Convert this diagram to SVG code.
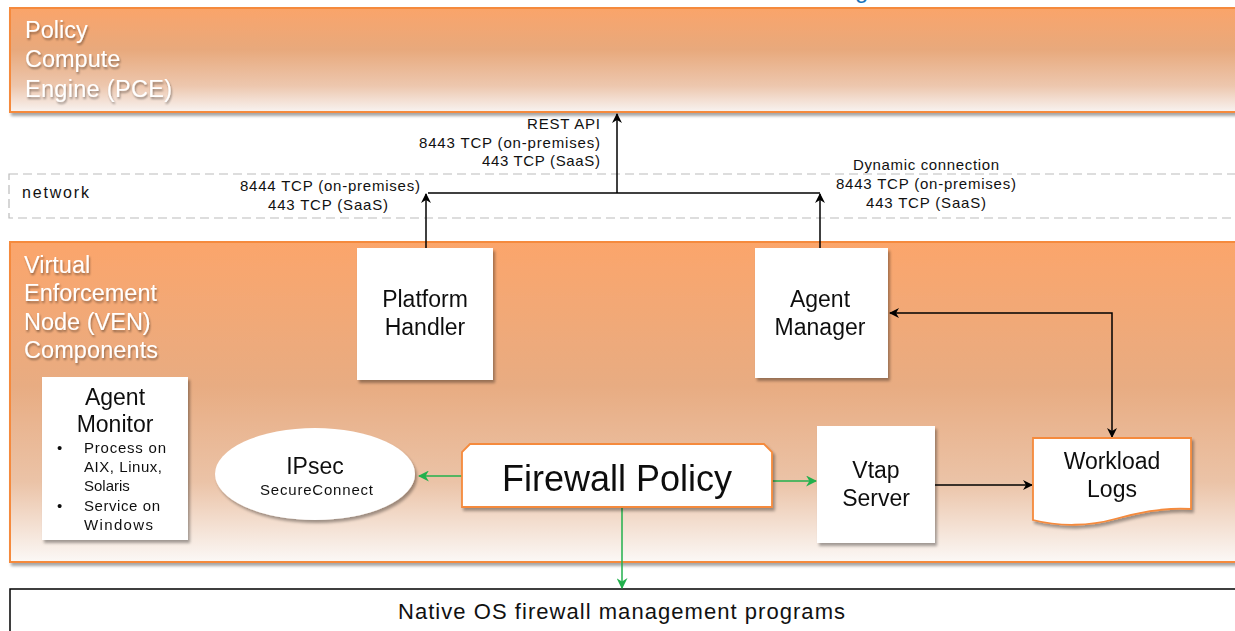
<svg xmlns="http://www.w3.org/2000/svg" width="1235" height="631" viewBox="0 0 1235 631">
<defs>
<linearGradient id="gPce" x1="0" y1="0" x2="0" y2="1">
<stop offset="0" stop-color="#FAA46A"/>
<stop offset="0.4" stop-color="#E8A97C"/>
<stop offset="0.75" stop-color="#EDC7AE"/>
<stop offset="1" stop-color="#F8F3F1"/>
</linearGradient>
<linearGradient id="gVen" x1="0" y1="0" x2="0" y2="1">
<stop offset="0" stop-color="#FBA56B"/>
<stop offset="0.45" stop-color="#E8AC82"/>
<stop offset="0.75" stop-color="#EBC3A7"/>
<stop offset="1" stop-color="#FBF8F6"/>
</linearGradient>
<filter id="sh" x="-10%" y="-10%" width="130%" height="130%">
<feGaussianBlur in="SourceAlpha" stdDeviation="1.5"/>
<feOffset dx="2" dy="3" result="o"/>
<feComponentTransfer><feFuncA type="linear" slope="0.35"/></feComponentTransfer>
<feMerge><feMergeNode/><feMergeNode in="SourceGraphic"/></feMerge>
</filter>
<filter id="tsh" x="-10%" y="-10%" width="130%" height="140%">
<feGaussianBlur in="SourceAlpha" stdDeviation="1.2"/>
<feOffset dx="1" dy="2" result="o"/>
<feComponentTransfer><feFuncA type="linear" slope="0.4"/></feComponentTransfer>
<feMerge><feMergeNode/><feMergeNode in="SourceGraphic"/></feMerge>
</filter>
<marker id="ab" viewBox="0 0 10 10" refX="9" refY="5" markerWidth="10" markerHeight="10" markerUnits="userSpaceOnUse" orient="auto-start-reverse">
<path d="M0,0 L10,5 L0,10 L3,5 Z" fill="#000"/>
</marker>
<marker id="ag" viewBox="0 0 10 10" refX="9" refY="5" markerWidth="11" markerHeight="11" markerUnits="userSpaceOnUse" orient="auto">
<path d="M0,0 L10,5 L0,10 L3,5 Z" fill="#22B04C"/>
</marker>
<style>
text{font-family:"Liberation Sans",Arial,sans-serif;}
.zone{stroke:#F58A3C;stroke-width:2;}
.ztxt{fill:#fff;font-size:23.5px;}
.node{fill:#fff;}
.onode{fill:#fff;stroke:#F58A3C;stroke-width:1.8;}
.nt{font-size:23px;fill:#111;text-anchor:middle;}
.lbl{font-size:15px;fill:#111;}
.sm{font-size:15px;fill:#111;}
.bk{fill:none;stroke:#000;stroke-width:1.5;}
.gr{fill:none;stroke:#22B04C;stroke-width:1.5;}
</style>
</defs>
<rect width="1235" height="631" fill="#fff"/>
<text x="855" y="-2" font-size="24" fill="#1A75BC">g</text>

<g id="pce">
<rect x="10" y="8" width="1235" height="104" fill="url(#gPce)" class="zone" filter="url(#sh)"/>
<g filter="url(#tsh)">
<text class="ztxt" x="25" y="38">Policy</text>
<text class="ztxt" x="25" y="67">Compute</text>
<text class="ztxt" x="25" y="97" textLength="147">Engine (PCE)</text>
</g>
</g>

<g id="network">
<rect x="9" y="174" width="1240" height="44" fill="none" stroke="#BBBBBB" stroke-width="1.2" stroke-dasharray="9,5"/>
<text x="22" y="198" font-size="16" fill="#111" textLength="67">network</text>
</g>

<g id="ven">
<rect x="10" y="242" width="1235" height="320" fill="url(#gVen)" class="zone" filter="url(#sh)"/>
<g filter="url(#tsh)">
<text class="ztxt" x="24" y="273">Virtual</text>
<text class="ztxt" x="24" y="301" textLength="133">Enforcement</text>
<text class="ztxt" x="24" y="330">Node (VEN)</text>
<text class="ztxt" x="24" y="358" textLength="134">Components</text>
</g>
</g>

<g id="native-os">
<rect x="10" y="589" width="1240" height="60" fill="#fff" stroke="#000" stroke-width="1.5"/>
<text x="398" y="619" font-size="22" fill="#111" textLength="447">Native OS firewall management programs</text>
</g>

<g id="connectors">
<path class="bk" d="M426,248 V194" marker-end="url(#ab)"/>
<path class="bk" d="M820,248 V194" marker-end="url(#ab)"/>
<path class="bk" d="M428,193 H820"/>
<path class="bk" d="M617,193 V114" marker-end="url(#ab)"/>
<path class="bk" d="M890,313 H1112 V437" marker-start="url(#ab)" marker-end="url(#ab)"/>
<path class="bk" d="M935,485 H1032" marker-end="url(#ab)"/>
<path class="gr" d="M462,476 H419" marker-end="url(#ag)"/>
<path class="gr" d="M772,481 H816" marker-end="url(#ag)"/>
<path class="gr" d="M622,507 V588" marker-end="url(#ag)"/>
<g class="lbl">
<text x="527" y="129" textLength="73">REST  API</text>
<text x="419" y="148" textLength="181">8443 TCP  (on-premises)</text>
<text x="482" y="166" textLength="118">443 TCP  (SaaS)</text>
<text x="240" y="191" textLength="180">8444 TCP  (on-premises)</text>
<text x="268" y="210" textLength="120">443 TCP  (SaaS)</text>
<text x="853" y="170" textLength="146">Dynamic connection</text>
<text x="836" y="189" textLength="180">8443 TCP  (on-premises)</text>
<text x="866" y="208" textLength="120">443 TCP  (SaaS)</text>
</g>
</g>

<g id="platform-handler" filter="url(#sh)">
<rect class="node" x="357" y="248" width="136" height="132"/>
<text class="nt" x="425" y="307">Platform</text>
<text class="nt" x="425" y="335">Handler</text>
</g>

<g id="agent-manager" filter="url(#sh)">
<rect class="node" x="755" y="248" width="133" height="130"/>
<text class="nt" x="820" y="307">Agent</text>
<text class="nt" x="820" y="335">Manager</text>
</g>

<g id="agent-monitor" filter="url(#sh)">
<rect class="node" x="42" y="377" width="146" height="163"/>
<text class="nt" x="115" y="405">Agent</text>
<text class="nt" x="115" y="432">Monitor</text>
<text class="sm" x="57" y="453">•</text>
<text class="sm" x="84" y="453" textLength="82">Process on</text>
<text class="sm" x="84" y="472" textLength="78">AIX, Linux,</text>
<text class="sm" x="84" y="491">Solaris</text>
<text class="sm" x="57" y="511">•</text>
<text class="sm" x="84" y="511" textLength="76">Service on</text>
<text class="sm" x="84" y="530" textLength="69">Windows</text>
</g>

<g id="ipsec" filter="url(#sh)">
<ellipse class="node" cx="315" cy="474" rx="100" ry="46"/>
<text class="nt" x="315" y="474">IPsec</text>
<text class="sm" x="260" y="495" textLength="113">SecureConnect</text>
</g>

<g id="firewall-policy" filter="url(#sh)">
<path class="onode" d="M470,444 H764 L772,452 V507 H462 V452 Z"/>
<text x="617" y="491" font-size="36" fill="#111" text-anchor="middle">Firewall Policy</text>
</g>

<g id="vtap-server" filter="url(#sh)">
<rect class="node" x="817" y="426" width="118" height="117"/>
<text class="nt" x="876" y="478">Vtap</text>
<text class="nt" x="876" y="506">Server</text>
</g>

<g id="workload-logs" filter="url(#sh)">
<path class="onode" d="M1033,438 H1191 V509 C1165,507 1140,512 1115,519 C1090,526 1060,527 1033,520 Z"/>
<text class="nt" x="1112" y="469" font-size="24">Workload</text>
<text class="nt" x="1112" y="497" font-size="24">Logs</text>
</g>
</svg>
